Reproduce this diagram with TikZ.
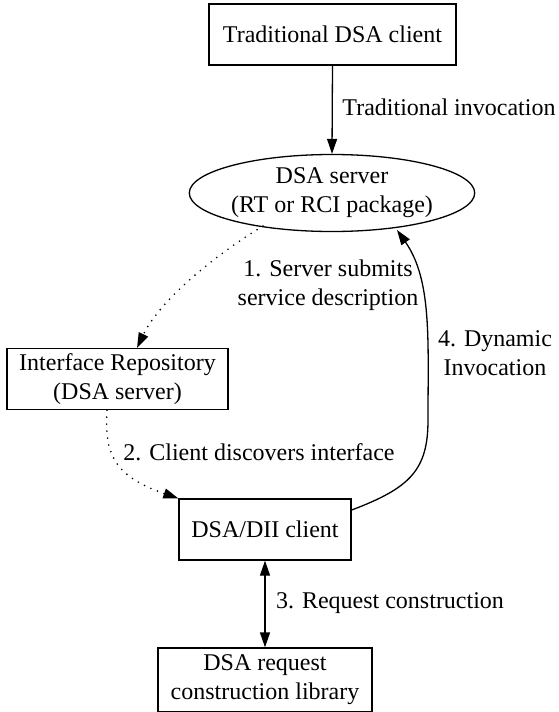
\documentclass[tikz,border=0pt]{standalone}
\usepackage{fontspec}
\setmainfont{Liberation Serif}
\usetikzlibrary{arrows.meta,shapes.geometric}
\begin{document}
\begin{tikzpicture}[x=1pt,y=-1pt,
  every node/.style={font=\fontsize{24}{29}\selectfont, align=center, inner sep=0pt},
  box/.style={draw, line width=1.3pt},
  conn/.style={line width=1.3pt},
  tip/.style={-{Triangle[length=15pt,width=10pt]}},
  dots/.style={line width=1.8pt, line cap=round, dash pattern=on 0pt off 7pt},
  lbl/.style={}]
\useasboundingbox (0,0) rectangle (558,712);
\node[box, minimum width=247pt, minimum height=61pt] (tc) at (332.5,34.5) {Traditional DSA client};
\node[draw, ellipse, line width=1.3pt, minimum width=250pt, minimum height=77pt] (srv) at (332,193) {DSA server\\(RT or RCI package)};
\node[box, minimum width=221pt, minimum height=61pt] (ir) at (117.5,379) {Interface Repository\\(DSA server)};
\node[box, minimum width=172pt, minimum height=61pt] (dii) at (265,529.5) {DSA/DII client};
\node[box, minimum width=214pt, minimum height=64pt] (lib) at (265,680) {DSA request\\construction library};

\node[lbl] (l0) at (449,107) {Traditional invocation};
\node[lbl] (l1) at (328,285) {1. Server submits\\service description};
\node[lbl] (l2) at (259,452) {2. Client discovers interface};
\node[lbl] (l3) at (390,603) {3. Request construction};
\node[lbl] (l4) at (495,353) {4. Dynamic\\Invocation};

\draw[conn, tip] (tc.south) -- (srv.north);
\draw[dots, tip] (263,226) .. controls (215,255) and (160,300) .. (ir.north -| 137,0);
\draw[dots, tip] (ir.south -| 107,0) .. controls (105,450) and (110,475) .. (dii.north west);
\draw[conn, tip] (dii.east |- 0,510) .. controls (410,488) and (428,470) .. (428,420)
  .. controls (428,340) and (432,280) .. (397,230);
\draw[conn, {Triangle[length=15pt,width=10pt]}-{Triangle[length=15pt,width=10pt]}] (dii.south) -- (lib.north);
\end{tikzpicture}
\end{document}
